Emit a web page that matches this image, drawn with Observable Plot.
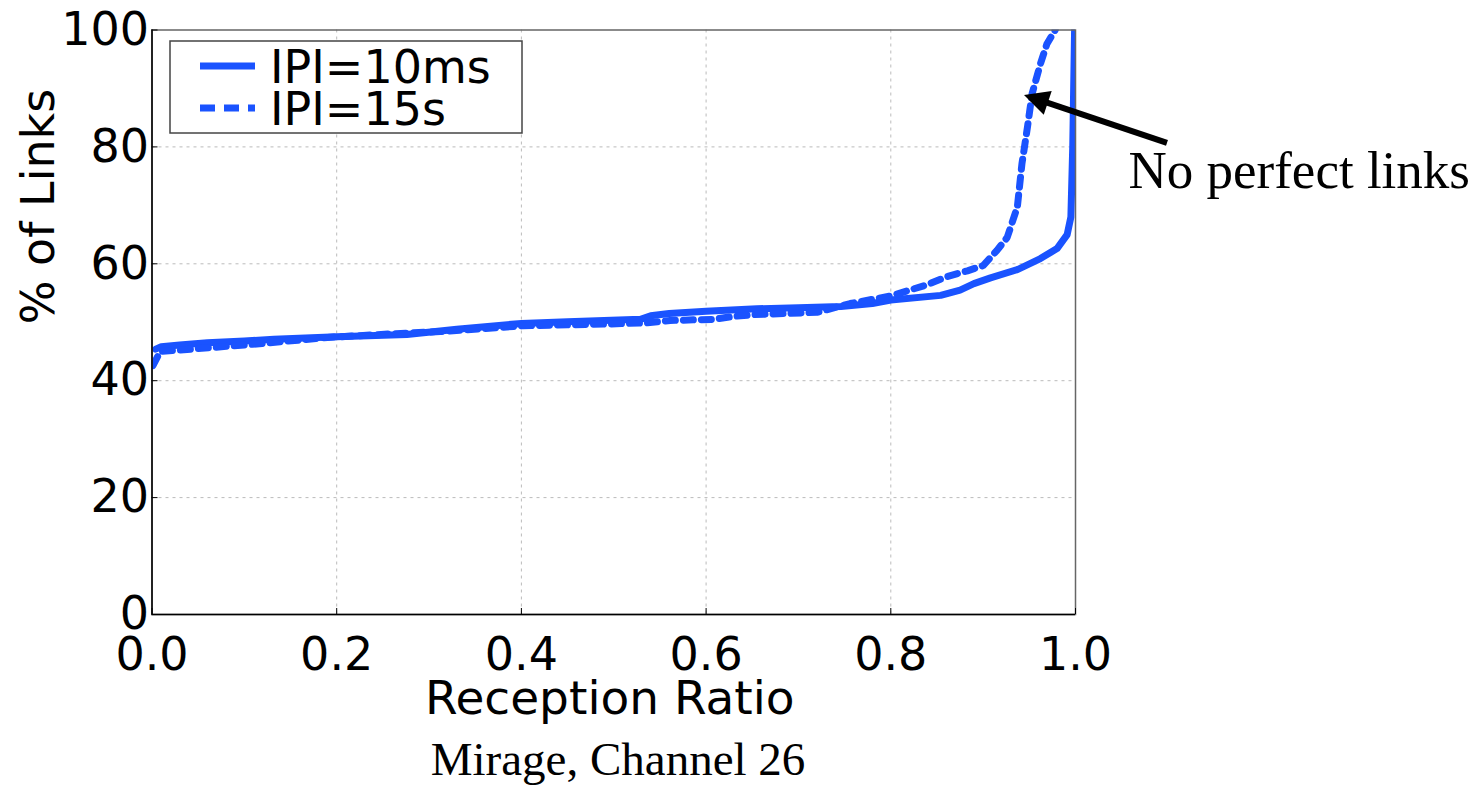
<!DOCTYPE html>
<html>
<head>
<meta charset="utf-8">
<script src="https://cdn.jsdelivr.net/npm/d3@7"></script>
<script src="https://cdn.jsdelivr.net/npm/@observablehq/plot@0.6"></script>
<style>
  html, body { margin: 0; padding: 0; background: #fff; }
  body { width: 1484px; height: 786px; overflow: hidden; position: relative; }
  #chart svg { display: block; }
  #caption {
    position: absolute; top: 736px; left: 618px; transform: translateX(-50%);
    font-family: "Liberation Serif", serif; font-size: 47px; line-height: 46px;
    white-space: nowrap; color: #000;
  }
</style>
</head>
<body>
<div id="chart"></div>
<div id="caption">Mirage, Channel 26</div>
<script>
// ---- data ----
const seriesNames = ["IPI=10ms", "IPI=15s"];
const xTicks = [0, 0.2, 0.4, 0.6, 0.8, 1.0];
const yTicks = [0, 20, 40, 60, 80, 100];
const xLabel = "Reception Ratio";
const yLabel = "% of Links";
const annotationText = "No perfect links";

const ratio10ms = [0.004, 0.01, 0.03, 0.06, 0.10, 0.132, 0.20, 0.276, 0.33, 0.40, 0.45, 0.529, 0.54, 0.56, 0.60, 0.655, 0.70, 0.746, 0.78, 0.80, 0.854, 0.875, 0.89, 0.908, 0.937, 0.962, 0.98, 0.991, 0.995, 0.997, 0.999];
const pct10ms   = [45.4, 45.8, 46.1, 46.5, 46.8, 47.1, 47.5, 47.9, 48.8, 49.8, 50.1, 50.5, 51.1, 51.5, 51.9, 52.3, 52.5, 52.7, 53.2, 53.8, 54.6, 55.5, 56.6, 57.6, 59.0, 60.9, 62.6, 65.0, 68.0, 80.0, 100];

const ratio15s = [0.001, 0.009, 0.042, 0.107, 0.19, 0.258, 0.312, 0.402, 0.493, 0.536, 0.561, 0.608, 0.63, 0.651, 0.72, 0.756, 0.80, 0.839, 0.861, 0.883, 0.90, 0.915, 0.926, 0.937, 0.942, 0.948, 0.953, 0.962, 0.969, 0.978];
const pct15s   = [42.6, 45.0, 45.4, 46.2, 47.4, 48.0, 48.4, 49.4, 49.7, 49.9, 50.3, 50.5, 51.0, 51.3, 51.7, 53.2, 54.5, 56.4, 57.8, 58.8, 59.7, 62.3, 64.5, 69.7, 77.1, 83.4, 89.1, 94.2, 97.6, 100];

// annotation: arrow from tail to tip, text anchor (data units)
const arrowTail = {x: 1.0996, y: 80.6};
const arrowTip = {x: 0.9448, y: 88.8};
const annotationPos = {x: 1.0574, y: 72.9};

const blue = "#1a53ff";
const dash = "10,8";

const rows10 = ratio10ms.map((x, i) => ({series: seriesNames[0], x, y: pct10ms[i]}));
const rows15 = ratio15s.map((x, i) => ({series: seriesNames[1], x, y: pct15s[i]}));

const chart = Plot.plot({
  width: 1484,
  height: 736,
  marginLeft: 151.5,
  marginRight: 409,
  marginTop: 29.5,
  marginBottom: 122,
  style: {fontFamily: "'DejaVu Sans', sans-serif", fontSize: "46px", background: "white", overflow: "visible", color: "black"},
  x: {domain: [0, 1]},
  y: {domain: [0, 100]},
  marks: [
    Plot.gridX(xTicks.slice(1, -1), {stroke: "#bbb", strokeOpacity: 1, strokeDasharray: "3,4"}),
    Plot.gridY(yTicks.slice(1, -1), {stroke: "#bbb", strokeOpacity: 1, strokeDasharray: "3,4"}),
    Plot.line(rows10, {x: "x", y: "y", stroke: blue, strokeWidth: 7, strokeLinejoin: "round", clip: true}),
    Plot.line(rows15, {x: "x", y: "y", stroke: blue, strokeWidth: 7, strokeDasharray: dash, strokeLinejoin: "round", clip: true}),
    Plot.frame({stroke: "#666", strokeWidth: 1.5}),
    Plot.ruleX([0], {stroke: "black", strokeWidth: 1.5}),
    Plot.ruleY([0], {stroke: "black", strokeWidth: 1.5}),
    Plot.axisX(xTicks, {tickSize: 0, tickPadding: 23, tickFormat: d => d.toFixed(1), label: null}),
    Plot.axisX(xTicks, {tickSize: 6, dy: -6, tickFormat: () => "", label: null}),
    Plot.axisY(yTicks, {tickSize: 0, tickPadding: 3, tickFormat: d => String(d), label: null}),
    Plot.axisY(yTicks, {tickSize: 6, dx: 6, tickFormat: () => "", label: null}),
    Plot.text([xLabel], {text: d => d, frameAnchor: "bottom", dy: 99, dx: -4, lineAnchor: "bottom", fill: "black", fontSize: 47}),
    Plot.text([yLabel], {text: d => d, frameAnchor: "left", dx: -98.5, dy: 2, rotate: -90, lineAnchor: "bottom", fill: "black"}),
    Plot.text([annotationText], {text: d => d, x: () => annotationPos.x, y: () => annotationPos.y, textAnchor: "start", lineAnchor: "bottom", fontFamily: "'Liberation Serif', serif", fontSize: 53, fill: "black"})
  ]
});

document.getElementById("chart").appendChild(chart);

// ---- arrow (positions through the chart's scales) ----
const sx = chart.scale("x"), sy = chart.scale("y");
const svg = d3.select(chart);
const tx = sx.apply(arrowTail.x), ty = sy.apply(arrowTail.y);
const hx = sx.apply(arrowTip.x), hy = sy.apply(arrowTip.y);
const len = Math.hypot(hx - tx, hy - ty);
const ux = (hx - tx) / len, uy = (hy - ty) / len;
const headLen = 25, headHalf = 12.5;
const bx = hx - ux * headLen, by = hy - uy * headLen;
const ga = svg.append("g");
ga.append("line").attr("x1", tx).attr("y1", ty).attr("x2", bx + ux * 3).attr("y2", by + uy * 3)
  .attr("stroke", "black").attr("stroke-width", 6);
ga.append("polygon")
  .attr("points", [[hx, hy], [bx - uy * headHalf, by + ux * headHalf], [bx + uy * headHalf, by - ux * headHalf]].map(p => p.join(",")).join(" "))
  .attr("fill", "black");

// ---- legend ----
const lg = svg.append("g").attr("transform", "translate(170,41)");
lg.append("rect").attr("width", 352).attr("height", 92).attr("fill", "white").attr("stroke", "#444").attr("stroke-width", 1.5);
const legendDash = [null, "15,9"];
seriesNames.forEach((name, i) => {
  const yy = i === 0 ? 25 : 67;
  lg.append("line").attr("x1", 30).attr("x2", 85).attr("y1", yy).attr("y2", yy)
    .attr("stroke", blue).attr("stroke-width", 7)
    .attr("stroke-dasharray", legendDash[i]);
  lg.append("text").attr("x", 100).attr("y", yy + 16.5)
    .attr("text-anchor", "start")
    .attr("font-family", "'DejaVu Sans', sans-serif").attr("font-size", 46).attr("fill", "black")
    .text(name);
});
</script>
</body>
</html>
